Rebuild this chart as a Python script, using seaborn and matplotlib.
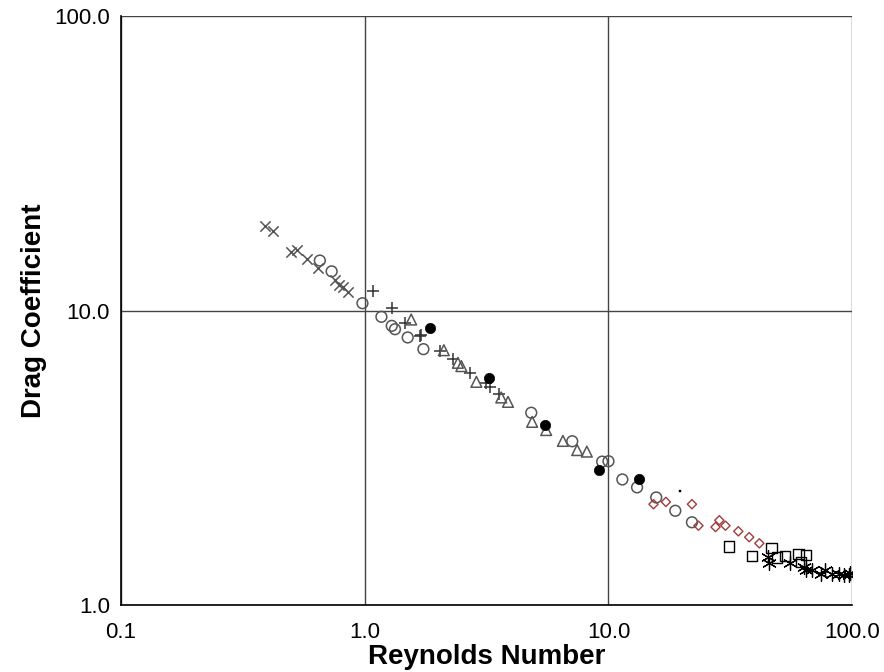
import numpy as np
import matplotlib
matplotlib.use("Agg")
import matplotlib.pyplot as plt
from matplotlib.ticker import LogLocator, FixedLocator, FixedFormatter, NullFormatter
import seaborn as sns

# Reynolds number / drag coefficient pairs, one list pair per data set
re_cross = [0.389, 0.421, 0.497, 0.525, 0.580, 0.640, 0.754, 0.785, 0.815, 0.855]
cd_cross = [19.4, 18.7, 15.8, 16.1, 15.0, 14.0, 12.7, 12.2, 12.0, 11.6]

re_circle = [0.654, 0.731, 0.978, 1.17, 1.29, 1.33, 1.50, 1.74, 4.82, 7.10,
             9.42, 10.0, 11.4, 13.1, 15.7, 18.8, 22.0]
cd_circle = [14.8, 13.6, 10.6, 9.53, 8.88, 8.65, 8.11, 7.40, 4.50, 3.60,
             3.07, 3.08, 2.67, 2.51, 2.32, 2.09, 1.91]

re_plus = [1.076, 1.29, 1.46, 1.68, 1.70, 2.03, 2.30, 2.71, 3.15, 3.25, 3.55]
cd_plus = [11.7, 10.2, 9.09, 8.19, 8.25, 7.30, 6.83, 6.12, 5.66, 5.51, 5.23]

re_tri = [1.55, 2.11, 2.41, 2.49, 2.87, 3.63, 3.87, 4.86, 5.55, 6.50, 7.44, 8.15]
cd_tri = [9.33, 7.34, 6.65, 6.48, 5.73, 5.07, 4.90, 4.19, 3.93, 3.61, 3.36, 3.32]

re_dot = [1.85, 3.23, 5.47, 9.12, 13.3]
cd_dot = [8.75, 5.91, 4.09, 2.87, 2.68]

re_point = [19.7]
cd_point = [2.44]

re_diamond = [15.3, 17.2, 22.0, 23.4, 27.5, 28.5, 30.2, 34.1, 37.8, 41.6]
cd_diamond = [2.20, 2.24, 2.20, 1.86, 1.84, 1.94, 1.86, 1.78, 1.70, 1.62]

re_square = [31.3, 38.7, 46.7, 49.0, 53.0, 60.2, 64.6, 61.6]
cd_square = [1.58, 1.47, 1.56, 1.45, 1.47, 1.49, 1.48, 1.40]

re_star = [45.0, 45.4, 55.6, 63.5, 64.6, 68.3, 74.5, 77.5, 83.0, 87.9, 92.8, 96.6, 98.2]
cd_star = [1.46, 1.39, 1.39, 1.35, 1.32, 1.31, 1.27, 1.32, 1.27, 1.27, 1.26, 1.26, 1.28]

major_ticks = [0.1, 1.0, 10.0, 100.0]
x_tick_labels = ["0.1", "1.0", "10.0", "100.0"]
y_ticks = [1.0, 10.0, 100.0]
y_tick_labels = ["1.0", "10.0", "100.0"]

sns.set_style("white")
plt.rcParams["font.family"] = ["Liberation Sans", "DejaVu Sans"]
plt.rcParams["text.color"] = "black"
plt.rcParams["axes.labelcolor"] = "black"
plt.rcParams["xtick.color"] = "black"
plt.rcParams["ytick.color"] = "black"

fig = plt.figure(figsize=(8.84, 6.72), dpi=100)
ax = fig.add_axes([0.137, 0.0997, 0.827, 0.876])

GRAY = "#555555"
RED = "#a03c3c"

# line-art markers
sns.scatterplot(x=re_cross, y=cd_cross, marker="x", color=GRAY, s=55, linewidth=1.1, ax=ax)
sns.scatterplot(x=re_plus, y=cd_plus, marker="+", color="#333333", s=70, linewidth=1.1, ax=ax)
sns.scatterplot(x=re_star, y=cd_star, marker=(6, 2, 0), color="black", s=100, linewidth=0.9, ax=ax)

# open markers
sns.scatterplot(x=re_circle, y=cd_circle, marker="o", color=GRAY, facecolor="none",
                edgecolor=GRAY, s=60, linewidth=1.1, ax=ax)
sns.scatterplot(x=re_tri, y=cd_tri, marker="^", color=GRAY, facecolor="none",
                edgecolor=GRAY, s=60, linewidth=1.1, ax=ax)
sns.scatterplot(x=re_diamond, y=cd_diamond, marker="D", color=RED, facecolor="none",
                edgecolor=RED, s=22, linewidth=1.0, ax=ax)
sns.scatterplot(x=re_square, y=cd_square, marker="s", color="black", facecolor="none",
                edgecolor="black", s=55, linewidth=1.0, ax=ax)

# filled markers
sns.scatterplot(x=re_dot, y=cd_dot, marker="o", color="black", edgecolor="black",
                s=55, linewidth=0.5, ax=ax)
sns.scatterplot(x=re_point, y=cd_point, marker="s", color="black", edgecolor="black",
                s=3, linewidth=0.3, ax=ax)

ax.set_xscale("log")
ax.set_yscale("log")
ax.set_xlim(0.1, 100)
ax.set_ylim(1, 100)

ax.xaxis.set_major_locator(FixedLocator(major_ticks))
ax.xaxis.set_major_formatter(FixedFormatter(x_tick_labels))
ax.yaxis.set_major_locator(FixedLocator(y_ticks))
ax.yaxis.set_major_formatter(FixedFormatter(y_tick_labels))
ax.xaxis.set_minor_locator(LogLocator(base=10, subs=np.arange(2, 10), numticks=20))
ax.yaxis.set_minor_locator(LogLocator(base=10, subs=np.arange(2, 10), numticks=20))
ax.xaxis.set_minor_formatter(NullFormatter())
ax.yaxis.set_minor_formatter(NullFormatter())

ax.tick_params(axis="both", which="major", direction="out", length=6, width=1,
               labelsize=16, color="black")
ax.tick_params(axis="x", which="major", pad=6)
ax.tick_params(axis="y", which="major", pad=2)
ax.tick_params(axis="both", which="minor", direction="out", length=4, width=0.8,
               color="#444444")

ax.grid(True, which="major", color="#444444", linewidth=1.0)
ax.set_axisbelow(True)
for side in ["top", "right"]:
    ax.spines[side].set_visible(False)
for side in ["left", "bottom"]:
    ax.spines[side].set_color("black")
    ax.spines[side].set_linewidth(1.2)

ax.set_xlabel("Reynolds Number", fontsize=20, fontweight="bold", labelpad=1)
ax.set_ylabel("Drag Coefficient", fontsize=20, fontweight="bold", labelpad=5)

fig.savefig("out.png", dpi=100, facecolor="white")
